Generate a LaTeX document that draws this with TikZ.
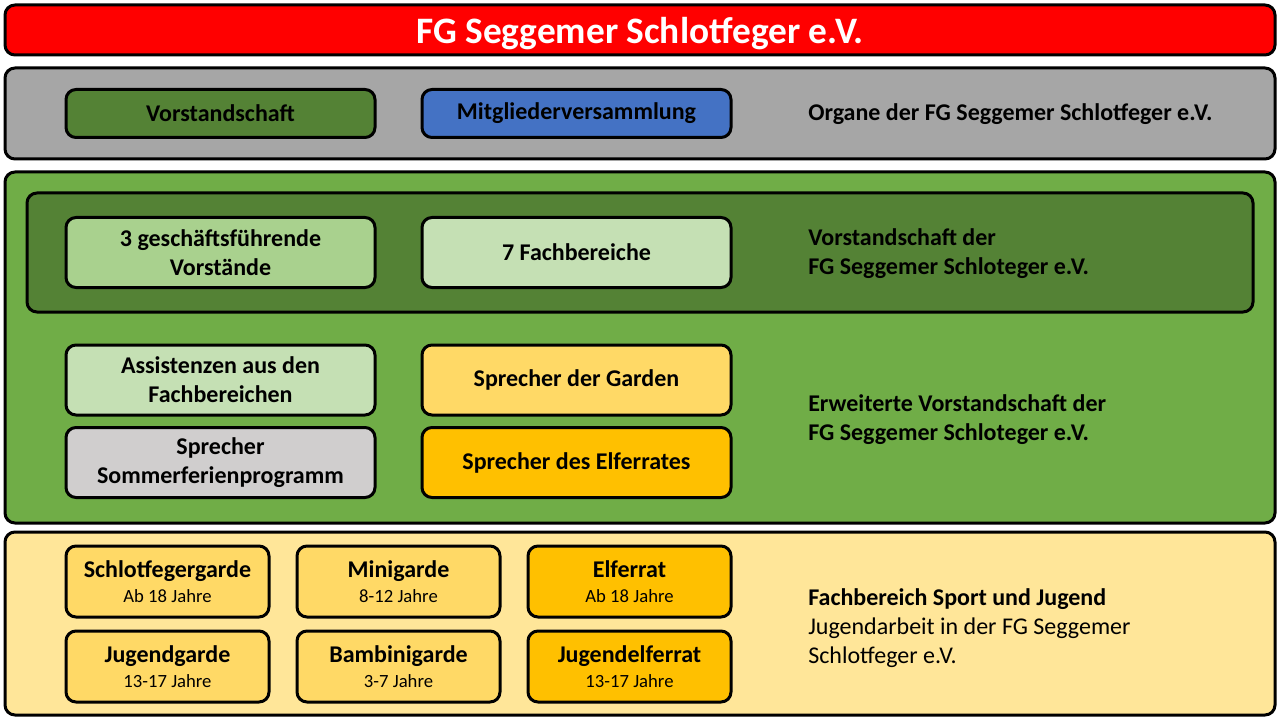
\documentclass[tikz,border=0pt]{standalone}
\usepackage{fontspec}
\setmainfont{Carlito}
\usetikzlibrary{positioning}

\definecolor{titlered}{HTML}{FF0000}
\definecolor{organgray}{HTML}{A6A6A6}
\definecolor{darkgreen}{HTML}{548235}
\definecolor{midgreen}{HTML}{70AD47}
\definecolor{lightgreen}{HTML}{A9D18E}
\definecolor{palegreen}{HTML}{C5E0B4}
\definecolor{memberblue}{HTML}{4472C4}
\definecolor{palegray}{HTML}{D0CECE}
\definecolor{paleyellow}{HTML}{FFE699}
\definecolor{gardeyellow}{HTML}{FFD966}
\definecolor{elferorange}{HTML}{FFC000}

\newcommand{\jahre}[1]{{\mdseries\fontsize{14}{18.75}\selectfont #1}}

\begin{document}
\begin{tikzpicture}[x=0.75pt, y=-0.75pt,
    frame/.style={draw, line width=2.25pt, rounded corners=7.5pt, minimum width=952.5pt, inner sep=0pt},
    wide/.style={draw, line width=2.25pt, rounded corners=7.5pt, minimum width=231.75pt, minimum height=52.5pt,
                 align=center, inner sep=0pt, font=\fontsize{18}{21.6}\selectfont\bfseries},
    small/.style={wide, minimum width=152.25pt, minimum height=53.25pt, font=\fontsize{18}{18.75}\selectfont\bfseries},
    note/.style={anchor=west, align=left, inner sep=0pt, font=\fontsize{18}{21.6}\selectfont\bfseries}]
    \useasboundingbox (0,0) rectangle (1280,720);

    % title
    \node[frame, fill=titlered, minimum height=37.5pt, text=white, text depth=0pt,
          font=\fontsize{28}{33.6}\selectfont\bfseries] (title) at (640,30) {FG Seggemer Schlotfeger e.V.};

    % organe
    \node[frame, fill=organgray, minimum height=68.25pt] (organe) at (640,113.5) {};
    \node[wide, fill=darkgreen, minimum height=36pt] (vorstand) at (220.5,113.5) {Vorstandschaft};
    \node[wide, fill=memberblue, minimum height=36pt] (mitglieder) at (576.5,113.5) {Mitgliederversammlung};
    \node[note] (organetext) at (808,114) {Organe der FG Seggemer Schlotfeger e.V.};

    % vorstandschaft
    \node[frame, fill=midgreen, minimum height=263.25pt] (gruen) at (640,347.5) {};
    \node[frame, fill=darkgreen, minimum width=919.5pt, minimum height=89.25pt] (kern) at (640,252.5) {};
    \node[wide, fill=lightgreen] (gf) at (220.5,252.5) {3 geschäftsführende\\Vorstände};
    \node[wide, fill=palegreen] (fb) at (576.5,252.5) {7 Fachbereiche};
    \node[note] (kerntext) at (808,253.5) {Vorstandschaft der\\FG Seggemer Schloteger e.V.};

    % erweiterte vorstandschaft
    \node[wide, fill=palegreen] (assist) at (220.5,380) {Assistenzen aus den\\Fachbereichen};
    \node[wide, fill=gardeyellow] (garden) at (576.5,380) {Sprecher der Garden};
    \node[wide, fill=palegray] (sommer) at (220.5,462.5) {Sprecher\\Sommerferienprogramm};
    \node[wide, fill=elferorange] (elfer) at (576.5,462.5) {Sprecher des Elferrates};
    \node[note] (erwtext) at (808,419.5) {Erweiterte Vorstandschaft der\\FG Seggemer Schloteger e.V.};

    % sport und jugend
    \node[frame, fill=paleyellow, minimum height=137.25pt] (jugend) at (640,623.5) {};
    \node[small, fill=gardeyellow] (schlotgarde) at (167.5,581.5) {Schlotfegergarde\\\jahre{Ab 18 Jahre}};
    \node[small, fill=gardeyellow] (minigarde) at (398.5,581.5) {Minigarde\\\jahre{8-12 Jahre}};
    \node[small, fill=elferorange] (elferrat) at (629.5,581.5) {Elferrat\\\jahre{Ab 18 Jahre}};
    \node[small, fill=gardeyellow] (jugendgarde) at (167.5,666.5) {Jugendgarde\\\jahre{13-17 Jahre}};
    \node[small, fill=gardeyellow] (bambini) at (398.5,666.5) {Bambinigarde\\\jahre{3-7 Jahre}};
    \node[small, fill=elferorange] (jugendelfer) at (629.5,666.5) {Jugendelferrat\\\jahre{13-17 Jahre}};
    \node[note] (jugendtext) at (808,628) {Fachbereich Sport und Jugend\\
        \mdseries Jugendarbeit in der FG Seggemer\\\mdseries Schlotfeger e.V.};
\end{tikzpicture}
\end{document}
